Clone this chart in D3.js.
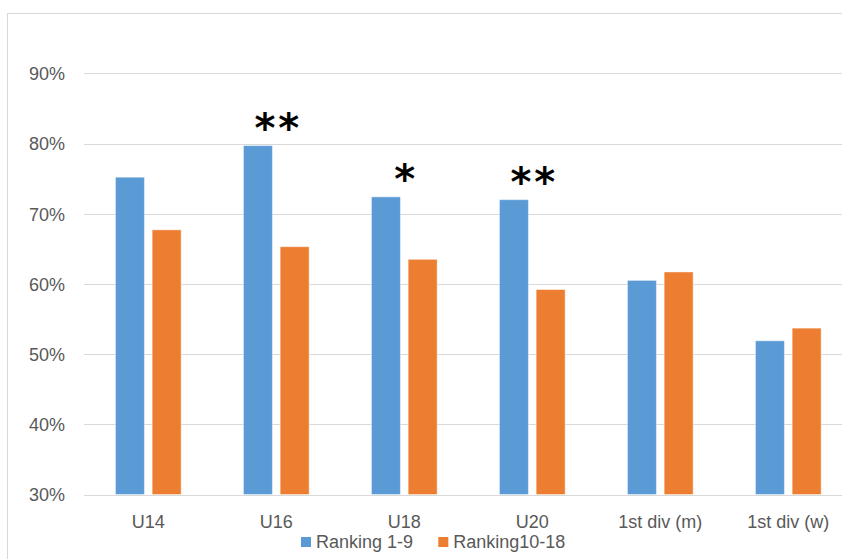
<!DOCTYPE html>
<html>
<head>
<meta charset="utf-8">
<script src="https://cdn.jsdelivr.net/npm/d3@7"></script>
<style>
  html, body { margin: 0; padding: 0; background: #ffffff; }
  svg { display: block; }
</style>
</head>
<body>
<svg id="chart" width="842" height="559"></svg>
<script>
// Share of wins by age group, split by league ranking
const categories = ["U14", "U16", "U18", "U20", "1st div (m)", "1st div (w)"];
const seriesNames = ["Ranking 1-9", "Ranking10-18"];
const ranking1to9 = [0.752, 0.797, 0.724, 0.720, 0.605, 0.519];
const ranking10to18 = [0.677, 0.653, 0.635, 0.592, 0.617, 0.537];
const yTicks = [0.3, 0.4, 0.5, 0.6, 0.7, 0.8, 0.9];
// significance markers per category
const markCats = ["U16", "U18", "U20"];
const markText = ["**", "*", "**"];

const colors = ["#5b9bd5", "#ed7d31"];
const textColor = "#595959";
const fontFamily = "'Liberation Sans', Arial, sans-serif";

const svg = d3.select("#chart");

// outer chart frame
svg.append("rect")
  .attr("x", 7.5).attr("y", 13.5)
  .attr("width", 900).attr("height", 600)
  .attr("fill", "none").attr("stroke", "#d9d9d9").attr("stroke-width", 1);

const plot = { left: 84.3, right: 852.3, top: 73.3, bottom: 494.5 };

const x0 = d3.scaleBand().domain(categories).range([plot.left, plot.right]).padding(0);
const y = d3.scaleLinear().domain([0.3, 0.9]).range([plot.bottom, plot.top]);

// horizontal gridlines
const yAxis = d3.axisLeft(y).tickValues(yTicks).tickFormat(d3.format(".0%")).tickSize(0).tickPadding(0);
const gy = svg.append("g").attr("transform", "translate(0,0)");
gy.selectAll("line.grid").data(yTicks).join("line")
  .attr("class", "grid")
  .attr("x1", 84).attr("x2", 842)
  .attr("y1", d => Math.round(y(d)) + 0.5).attr("y2", d => Math.round(y(d)) + 0.5)
  .attr("stroke", "#d9d9d9").attr("stroke-width", 1);

// y tick labels via axis
const axisG = svg.append("g").attr("transform", "translate(65,0)").call(yAxis);
axisG.select(".domain").remove();
axisG.selectAll("text")
  .attr("fill", textColor)
  .attr("font-family", fontFamily)
  .attr("font-size", 18)
  .attr("dy", "0.35em");

// bars
const groupWidth = 65.7;
const rows = categories.map((c, i) => ({ cat: c, values: [ranking1to9[i], ranking10to18[i]] }));
const groups = svg.append("g").selectAll("g").data(rows).join("g");
groups.each(function (row) {
  const cx = x0(row.cat) + x0.bandwidth() / 2;
  const x1 = d3.scaleBand().domain(seriesNames)
    .range([cx - groupWidth / 2, cx + groupWidth / 2])
    .paddingInner(0.21).paddingOuter(0);
  d3.select(this).selectAll("rect").data(row.values.map((v, k) => ({ v, k }))).join("rect")
    .attr("x", d => x1(seriesNames[d.k]))
    .attr("width", x1.bandwidth())
    .attr("y", d => y(d.v))
    .attr("height", d => y(0.3) - y(d.v))
    .attr("fill", d => colors[d.k])
    .attr("stroke", "rgba(255,255,255,0.45)")
    .attr("stroke-width", 1);
});

// category labels
const xAxis = d3.axisBottom(x0).tickSize(0).tickPadding(0);
const xg = svg.append("g").attr("transform", `translate(0,${plot.bottom + 27})`).call(xAxis);
xg.select(".domain").remove();
xg.selectAll("text")
  .attr("fill", textColor)
  .attr("font-family", fontFamily)
  .attr("font-size", 18)
  .attr("dy", "0.35em")
  .attr("y", 0);

// significance markers above each group
markCats.forEach((c, i) => {
  const idx = categories.indexOf(c);
  const top = Math.max(ranking1to9[idx], ranking10to18[idx]);
  svg.append("text")
    .attr("x", x0(c) + x0.bandwidth() / 2 + 2)
    .attr("y", y(top) - 4)
    .attr("text-anchor", "middle")
    .attr("font-family", "'DejaVu Sans', sans-serif")
    .attr("font-weight", "bold")
    .attr("font-size", 40)
    .attr("letter-spacing", 3)
    .attr("fill", "#000")
    .text(markText[i]);
});

// legend
const legend = svg.append("g").attr("transform", "translate(0,542)");
const legendX = [301, 438.3];
seriesNames.forEach((name, k) => {
  legend.append("rect")
    .attr("x", legendX[k]).attr("y", -5)
    .attr("width", 10).attr("height", 10)
    .attr("fill", colors[k]);
  legend.append("text")
    .attr("x", legendX[k] + 15).attr("y", 0)
    .attr("dy", "0.35em")
    .attr("fill", textColor)
    .attr("font-family", fontFamily)
    .attr("font-size", 18)
    .text(name);
});
</script>
</body>
</html>
